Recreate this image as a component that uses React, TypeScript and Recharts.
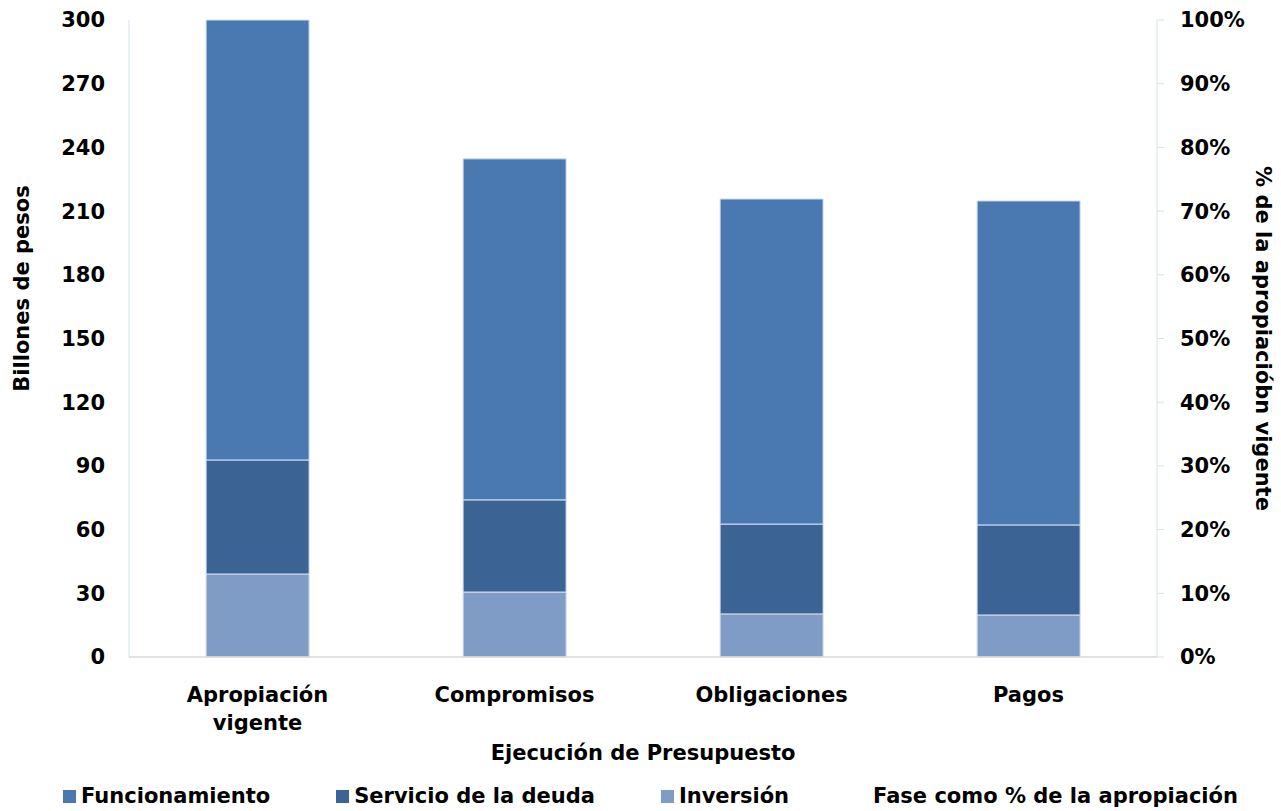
import React from 'react'
import {
  ComposedChart,
  Bar,
  Line,
  XAxis,
  YAxis,
  Legend,
  Text,
} from 'recharts'

// Ejecucion de presupuesto — billones de pesos por fase

const categorias = ['Apropiación vigente', 'Compromisos', 'Obligaciones', 'Pagos']
const inversion = [39.1, 30.6, 20.3, 19.8]
const servicioDeuda = [53.7, 43.4, 42.3, 42.4]
const funcionamiento = [207.2, 160.6, 153.1, 152.6]
const faseComoPct = [100, 78.2, 71.9, 71.6]

const leftTicks = [0, 30, 60, 90, 120, 150, 180, 210, 240, 270, 300]
const rightTicks = [0, 10, 20, 30, 40, 50, 60, 70, 80, 90, 100]

const data = categorias.map((cat, i) => ({
  cat,
  inversion: inversion[i],
  servicio: servicioDeuda[i],
  funcionamiento: funcionamiento[i],
  fase: faseComoPct[i],
}))

const FONT = '"DejaVu Sans", sans-serif'
const AXIS_LIGHT = '#d5e0ee'

const legendItems = [
  { name: 'Funcionamiento', color: '#4a79b1' },
  { name: 'Servicio de la deuda', color: '#3b6494' },
  { name: 'Inversión', color: '#7f9cc7' },
  { name: 'Fase como % de la apropiación', color: 'transparent' },
]

function CategoryTick(props: any) {
  const { x, y, payload } = props
  return (
    <Text
      x={x}
      y={y + 22}
      width={150}
      textAnchor="middle"
      verticalAnchor="start"
      lineHeight={28}
      style={{ fontFamily: FONT, fontWeight: 700, fontSize: 21, fill: '#000' }}
    >
      {payload.value}
    </Text>
  )
}

function LegendContent() {
  return (
    <div
      style={{
        display: 'flex',
        justifyContent: 'center',
        gap: 66,
        paddingLeft: 20,
        fontFamily: FONT,
        fontWeight: 700,
        fontSize: 21,
        color: '#000',
      }}
    >
      {legendItems.map((it) => (
        <div key={it.name} style={{ display: 'flex', alignItems: 'center' }}>
          <span
            style={{
              display: 'inline-block',
              width: 13,
              height: 13,
              background: it.color,
              marginRight: 5,
            }}
          />
          <span>{it.name}</span>
        </div>
      ))}
    </div>
  )
}

export default function App() {
  return (
    <div style={{ position: 'absolute', left: 0, top: 0, width: 1281, height: 811, background: '#fff' }}>
      <ComposedChart
        width={1281}
        height={811}
        data={data}
        margin={{ top: 20, right: 0, left: 0, bottom: 0 }}
        barCategoryGap="30%"
      >
        <XAxis
          dataKey="cat"
          height={154}
          axisLine={{ stroke: '#d9d9d9', strokeWidth: 1.5 }}
          tickLine={false}
          tick={<CategoryTick />}
          interval={0}
          label={{
            content: ({ viewBox }: any) => (
              <text
                x={viewBox.x + viewBox.width / 2}
                y={753}
                textAnchor="middle"
                dominantBaseline="central"
                style={{ fontFamily: FONT, fontWeight: 700, fontSize: 21, fill: '#000' }}
              >
                Ejecución de Presupuesto
              </text>
            ),
          }}
        />
        <YAxis
          yAxisId="left"
          orientation="left"
          width={129}
          domain={[0, 300]}
          ticks={leftTicks}
          axisLine={{ stroke: AXIS_LIGHT }}
          tickLine={false}
          tickSize={0}
          tickMargin={24}
          tick={{ fontFamily: FONT, fontWeight: 700, fontSize: 21, fill: '#000' }}
          label={{
            content: ({ viewBox }: any) => (
              <text
                x={22}
                y={viewBox.y + viewBox.height / 2 - 50}
                textAnchor="middle"
                dominantBaseline="central"
                transform={`rotate(-90, 22, ${viewBox.y + viewBox.height / 2 - 50})`}
                style={{ fontFamily: FONT, fontWeight: 700, fontSize: 21, fill: '#000' }}
              >
                Billones de pesos
              </text>
            ),
          }}
        />
        <YAxis
          yAxisId="right"
          orientation="right"
          width={124}
          domain={[0, 100]}
          ticks={rightTicks}
          axisLine={{ stroke: AXIS_LIGHT }}
          tickLine={{ stroke: AXIS_LIGHT }}
          tickSize={7}
          tickMargin={16}
          tickFormatter={(v: number) => `${v}%`}
          tick={{ fontFamily: FONT, fontWeight: 700, fontSize: 21, fill: '#000', textAnchor: 'start' }}
          label={{
            content: ({ viewBox }: any) => (
              <text
                x={1263}
                y={viewBox.y + viewBox.height / 2}
                textAnchor="middle"
                dominantBaseline="central"
                transform={`rotate(90, 1263, ${viewBox.y + viewBox.height / 2})`}
                style={{ fontFamily: FONT, fontWeight: 700, fontSize: 21, fill: '#000' }}
              >
                % de la apropiacióbn vigente
              </text>
            ),
          }}
        />
        <Legend
          layout="horizontal"
          verticalAlign="middle"
          align="center"
          content={<LegendContent />}
          wrapperStyle={{ top: 784, left: 0, width: 1281 }}
        />
        <Bar yAxisId="left" dataKey="inversion" stackId="a" fill="#7f9cc7" stroke="#d3deee" strokeWidth={1} isAnimationActive={false} name="Inversión" />
        <Bar yAxisId="left" dataKey="servicio" stackId="a" fill="#3b6494" stroke="#d3deee" strokeWidth={1} isAnimationActive={false} name="Servicio de la deuda" />
        <Bar yAxisId="left" dataKey="funcionamiento" stackId="a" fill="#4a79b1" stroke="#d3deee" strokeWidth={1} isAnimationActive={false} name="Funcionamiento" />
        <Line yAxisId="right" dataKey="fase" stroke="none" dot={false} activeDot={false} isAnimationActive={false} name="Fase como % de la apropiación" />
      </ComposedChart>
    </div>
  )
}
